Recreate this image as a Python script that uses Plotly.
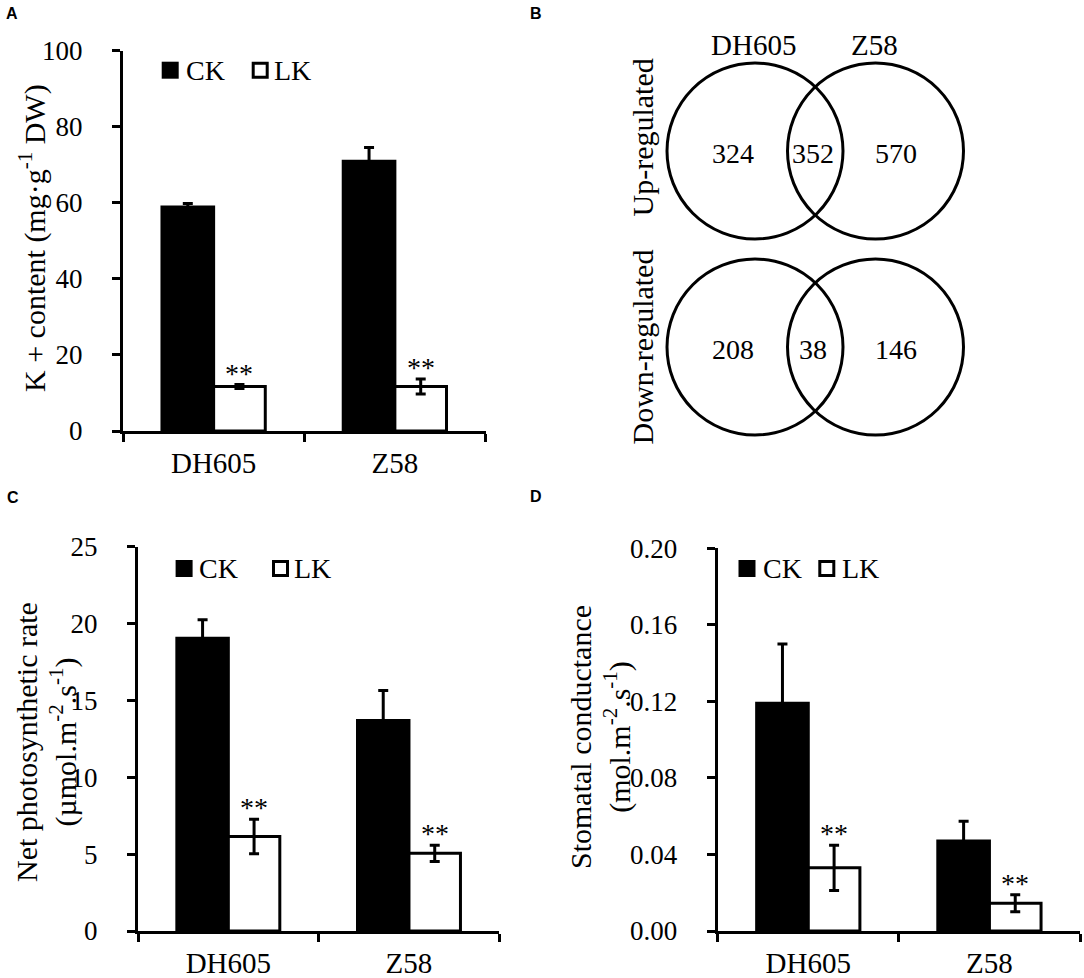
import plotly.graph_objects as go

# ---------------------------------------------------------------------------
# Data
# ---------------------------------------------------------------------------
CULTIVARS = ["DH605", "Z58"]
TREATMENTS = ["CK", "LK"]

# A: K+ content (mg g-1 DW)
K_CK = [58.9, 70.9]
K_CK_ERR = [0.9, 3.6]
K_LK = [11.7, 11.7]
K_LK_ERR = [0.5, 1.95]

# C: net photosynthetic rate (umol m-2 s-1)
PN_CK = [19.05, 13.7]
PN_CK_ERR = [1.2, 1.95]
PN_LK = [6.15, 5.05]
PN_LK_ERR = [1.12, 0.53]

# D: stomatal conductance (mol m-2 s-1)
GS_CK = [0.119, 0.047]
GS_CK_ERR = [0.031, 0.0104]
GS_LK = [0.033, 0.0145]
GS_LK_ERR = [0.0118, 0.0044]

SIG_LK = ["**", "**"]

# B: Venn counts (DH605 only, shared, Z58 only)
VENN_SETS = ["DH605", "Z58"]
VENN_ROWS = ["Up-regulated", "Down-regulated"]
VENN_UP = [324, 352, 570]
VENN_DOWN = [208, 38, 146]

# ---------------------------------------------------------------------------
# Layout constants (pixels of the 1084x978 page)
# ---------------------------------------------------------------------------
W, H = 1084, 978
SERIF = "Liberation Serif"
SANS = "Liberation Sans"
BARGAP = 0.43
LW = 3


def fx(p):
    return p / W


def fy(p):
    return 1 - p / H


# plot-area boxes: (left, right), (top, bottom)
BOX_A = ((123, 485.5), (50.5, 431))
BOX_C = ((138, 499.3), (546.7, 931))
BOX_D = ((717.7, 1080), (548.3, 931))
BOX_B = ((600, 1000), (20, 470))


def xdom(box):
    return [fx(box[0][0]), fx(box[0][1])]


def ydom(box):
    return [fy(box[1][1]), fy(box[1][0])]


def bar_xaxis(box, anchor):
    return dict(
        domain=xdom(box), anchor=anchor, type="category",
        tickson="boundaries", ticks="outside", ticklen=8, tickwidth=LW,
        tickcolor="black", showline=True, linewidth=LW, linecolor="black",
        showgrid=False, zeroline=False, ticklabelstandoff=4, automargin=False,
        tickfont=dict(family=SERIF, size=29, color="black"), fixedrange=True,
    )


def bar_yaxis(box, anchor, rng, dtick, fmt):
    return dict(
        domain=ydom(box), anchor=anchor, range=rng, dtick=dtick,
        tickformat=fmt, ticks="outside", ticklen=8, tickwidth=LW,
        tickcolor="black", showline=True, linewidth=LW, linecolor="black",
        showgrid=False, zeroline=False, ticklabelstandoff=24, automargin=False,
        tickfont=dict(family=SERIF, size=27, color="black"), fixedrange=True,
    )


fig = go.Figure()

panels = [
    ("x", "y", K_CK, K_CK_ERR, K_LK, K_LK_ERR),
    ("x3", "y3", PN_CK, PN_CK_ERR, PN_LK, PN_LK_ERR),
    ("x4", "y4", GS_CK, GS_CK_ERR, GS_LK, GS_LK_ERR),
]

annotations = []
shapes = []

for xa, ya, ck, ck_err, lk, lk_err in panels:
    for name, vals, errs, fill in [("CK", ck, ck_err, "#000000"),
                                   ("LK", lk, lk_err, "#ffffff")]:
        fig.add_trace(go.Bar(
            x=CULTIVARS, y=vals, name=name, xaxis=xa, yaxis=ya,
            marker=dict(color=fill, line=dict(color="black", width=LW)),
            error_y=dict(type="data", array=errs, visible=True,
                         color="black", thickness=LW, width=5),
            showlegend=False,
        ))
    # significance marks above the LK bars
    off = (1 - BARGAP) / 4
    for i, (v, e, s) in enumerate(zip(lk, lk_err, SIG_LK)):
        annotations.append(dict(
            x=i + off, y=v + e, xref=xa, yref=ya, text=s, showarrow=False,
            yanchor="bottom", yshift=-6,
            font=dict(family=SERIF, size=28, color="black"),
        ))

# hand-placed legends (filled / open squares)
LEGENDS = [
    # ck square left, lk square left, square top, ck text x, lk text x
    (161.7, 251.7, 61.7, 184, 272),
    (175.6, 272.0, 560.0, 197, 292),
    (738.5, 818.3, 560.0, 761, 840),
]
SQ = 17
for ck_x, lk_x, top, ck_tx, lk_tx in LEGENDS:
    shapes.append(dict(type="rect", xref="paper", yref="paper",
                       x0=fx(ck_x), x1=fx(ck_x + SQ), y0=fy(top + SQ), y1=fy(top),
                       fillcolor="black", line=dict(width=0)))
    shapes.append(dict(type="rect", xref="paper", yref="paper",
                       x0=fx(lk_x + 1.5), x1=fx(lk_x + SQ - 1.5),
                       y0=fy(top + SQ - 1.5), y1=fy(top + 1.5),
                       fillcolor="white", line=dict(color="black", width=LW)))
    for tx, label in [(ck_tx, TREATMENTS[0]), (lk_tx, TREATMENTS[1])]:
        annotations.append(dict(
            x=fx(tx), y=fy(top + SQ / 2), xref="paper", yref="paper",
            text=label, showarrow=False, xanchor="left", yanchor="middle",
            font=dict(family=SERIF, size=28, color="black"),
        ))

# y-axis titles
Y_TITLES = [
    ("K + content (mg·g<sup>-1</sup> DW)", 33, 238),
    ("Net photosynthetic rate<br>(µmol.m<sup>-2</sup>.s<sup>-1</sup>)", 46, 742),
    ("Stomatal conductance<br>(mol.m<sup>-2</sup>.s<sup>-1</sup>)", 600, 737),
]
for text, x, y in Y_TITLES:
    annotations.append(dict(
        x=fx(x), y=fy(y), xref="paper", yref="paper", text=text,
        textangle=-90, showarrow=False, xanchor="center", yanchor="middle",
        font=dict(family=SERIF, size=30, color="black"),
    ))

# panel letters
for letter, x, y in [("A", 12, 14), ("B", 536, 14), ("C", 13, 498), ("D", 536, 496)]:
    annotations.append(dict(
        x=fx(x), y=fy(y), xref="paper", yref="paper", text=f"<b>{letter}</b>",
        showarrow=False, xanchor="center", yanchor="middle",
        font=dict(family=SANS, size=16, color="black"),
    ))

# ---------------------------------------------------------------------------
# Venn diagrams (panel B) on a hidden pixel-unit axis pair
# ---------------------------------------------------------------------------
VENN_R = 88
VENN_CX = [755, 875.5]
VENN_CY = [151, 347]
COUNT_X = [732.5, 812.5, 896]
COUNT_DY = 2.5

for cy, counts in zip(VENN_CY, [VENN_UP, VENN_DOWN]):
    for cx in VENN_CX:
        shapes.append(dict(type="circle", xref="x2", yref="y2",
                           x0=cx - VENN_R, x1=cx + VENN_R,
                           y0=cy - VENN_R, y1=cy + VENN_R,
                           line=dict(color="black", width=LW)))
    for x, n in zip(COUNT_X, counts):
        annotations.append(dict(
            x=x, y=cy + COUNT_DY, xref="x2", yref="y2", text=str(n),
            showarrow=False, font=dict(family=SERIF, size=28, color="black"),
        ))

for cx, name in zip([753, 874], VENN_SETS):
    annotations.append(dict(
        x=cx, y=45, xref="x2", yref="y2", text=name, showarrow=False,
        font=dict(family=SERIF, size=29, color="black"),
    ))
for cy, row in zip([137.5, 347.5], VENN_ROWS):
    annotations.append(dict(
        x=642, y=cy, xref="x2", yref="y2", text=row, showarrow=False,
        textangle=-90, font=dict(family=SERIF, size=30, color="black"),
    ))

fig.update_layout(
    template="none",
    width=W, height=H, margin=dict(l=0, r=0, t=0, b=0, autoexpand=False),
    font=dict(family=SERIF, color="black"),
    paper_bgcolor="white", plot_bgcolor="white",
    barmode="group", bargap=BARGAP, bargroupgap=0,
    xaxis=bar_xaxis(BOX_A, "y"),
    yaxis=bar_yaxis(BOX_A, "x", [0, 100], 20, "d"),
    xaxis3=bar_xaxis(BOX_C, "y3"),
    yaxis3=bar_yaxis(BOX_C, "x3", [0, 25], 5, "d"),
    xaxis4=bar_xaxis(BOX_D, "y4"),
    yaxis4=bar_yaxis(BOX_D, "x4", [0, 0.2], 0.04, ".2f"),
    xaxis2=dict(domain=xdom(BOX_B), anchor="y2", range=[BOX_B[0][0], BOX_B[0][1]],
                visible=False, fixedrange=True, automargin=False),
    yaxis2=dict(domain=ydom(BOX_B), anchor="x2", range=[BOX_B[1][1], BOX_B[1][0]],
                visible=False, fixedrange=True, automargin=False),
    annotations=annotations,
    shapes=shapes,
    showlegend=False,
)

# the page's default body margin would push the figure 8px down and right
fig.write_html("out.html", config={"displayModeBar": False},
               post_script="document.body.style.margin = '0';")
